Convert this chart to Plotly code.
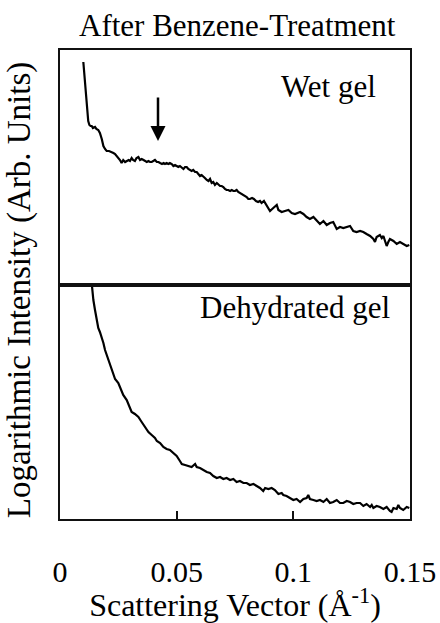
import plotly.graph_objects as go

# ---------------- data ----------------
tick_vals = [0, 0.05, 0.1, 0.15]
tick_text = ["0", "0.05", "0.1", "0.15"]

# Wet gel (upper panel) : scattering vector q (1/Å) and log intensity (arb. units)
wet_q = [
    0.0100, 0.0104, 0.0107, 0.0111, 0.0114, 0.0118, 0.0121, 0.0126, 0.0131, 0.0136,
    0.0141, 0.0150, 0.0156, 0.0164, 0.0171, 0.0179, 0.0186, 0.0193, 0.0200, 0.0210,
    0.0222, 0.0229, 0.0236, 0.0244, 0.0250, 0.0257, 0.0264, 0.0271, 0.0279, 0.0286,
    0.0294, 0.0300, 0.0307, 0.0313, 0.0321, 0.0328, 0.0336, 0.0343, 0.0350, 0.0358,
    0.0364, 0.0372, 0.0379, 0.0386, 0.0393, 0.0401, 0.0407, 0.0415, 0.0422, 0.0429,
    0.0437, 0.0444, 0.0450, 0.0457, 0.0464, 0.0471, 0.0479, 0.0486, 0.0493, 0.0500,
    0.0507, 0.0514, 0.0522, 0.0529, 0.0536, 0.0543, 0.0550, 0.0557, 0.0564, 0.0571,
    0.0579, 0.0586, 0.0593, 0.0600, 0.0607, 0.0614, 0.0621, 0.0629, 0.0636, 0.0643,
    0.0650, 0.0657, 0.0664, 0.0672, 0.0679, 0.0686, 0.0693, 0.0700, 0.0707, 0.0714,
    0.0721, 0.0729, 0.0736, 0.0743, 0.0750, 0.0757, 0.0764, 0.0771, 0.0779, 0.0786,
    0.0793, 0.0800, 0.0807, 0.0814, 0.0823, 0.0831, 0.0840, 0.0849, 0.0857, 0.0864,
    0.0874, 0.0886, 0.0900, 0.0914, 0.0929, 0.0936, 0.0950, 0.0964, 0.0979, 0.0993,
    0.1007, 0.1029, 0.1043, 0.1057, 0.1071, 0.1086, 0.1100, 0.1114, 0.1129, 0.1143,
    0.1157, 0.1171, 0.1186, 0.1200, 0.1214, 0.1229, 0.1243, 0.1257, 0.1271, 0.1286,
    0.1300, 0.1314, 0.1329, 0.1343, 0.1350, 0.1357, 0.1371, 0.1379, 0.1386, 0.1393,
    0.1400, 0.1407, 0.1414, 0.1429, 0.1443, 0.1457, 0.1471, 0.1486, 0.1497,
]
wet_i = [
    221, 209, 200, 184, 177, 168, 162, 158, 157, 157,
    155, 156, 154, 153, 150, 144, 137, 134, 132, 132,
    131, 130, 129, 127, 125, 123, 120, 123, 121, 122,
    123, 122, 125, 123, 122, 125, 126, 123, 124, 123,
    122, 121, 122, 121, 121, 122, 123, 121, 121, 120,
    119, 120, 119, 120, 119, 120, 119, 117, 118, 117,
    116, 117, 115, 114, 116, 116, 114, 113, 112, 113,
    111, 111, 109, 107, 108, 106, 105, 103, 102, 104,
    100, 101, 98, 100, 98, 97, 97, 96, 94, 93,
    93, 92, 93, 92, 92, 93, 91, 90, 89, 88,
    87, 86, 84, 84, 85, 84, 82, 81, 82, 80,
    82, 77, 72, 75, 78, 73, 71, 72, 73, 70,
    69, 71, 69, 66, 64, 66, 63, 59, 62, 58,
    60, 61, 54, 56, 55, 56, 57, 52, 51, 52,
    51, 49, 47, 44, 41, 46, 48, 45, 47, 42,
    37, 41, 44, 42, 39, 41, 39, 37, 38,
]

# Dehydrated gel (lower panel)
dry_q = [
    0.0134, 0.0138, 0.0143, 0.0150, 0.0157, 0.0164, 0.0171, 0.0179, 0.0186, 0.0193,
    0.0200, 0.0207, 0.0214, 0.0222, 0.0229, 0.0236, 0.0250, 0.0257, 0.0264, 0.0271,
    0.0286, 0.0300, 0.0307, 0.0321, 0.0336, 0.0350, 0.0364, 0.0379, 0.0393, 0.0407,
    0.0415, 0.0429, 0.0443, 0.0457, 0.0471, 0.0486, 0.0500, 0.0514, 0.0522, 0.0536,
    0.0550, 0.0564, 0.0579, 0.0586, 0.0600, 0.0614, 0.0629, 0.0643, 0.0657, 0.0672,
    0.0686, 0.0700, 0.0714, 0.0729, 0.0743, 0.0757, 0.0771, 0.0786, 0.0800, 0.0814,
    0.0829, 0.0843, 0.0857, 0.0871, 0.0879, 0.0893, 0.0907, 0.0921, 0.0936, 0.0950,
    0.0957, 0.0971, 0.0986, 0.1000, 0.1014, 0.1029, 0.1043, 0.1057, 0.1064, 0.1071,
    0.1086, 0.1100, 0.1114, 0.1129, 0.1143, 0.1157, 0.1171, 0.1186, 0.1200, 0.1214,
    0.1229, 0.1243, 0.1257, 0.1271, 0.1286, 0.1300, 0.1314, 0.1329, 0.1336, 0.1343,
    0.1357, 0.1371, 0.1386, 0.1400, 0.1414, 0.1421, 0.1429, 0.1443, 0.1450, 0.1457,
    0.1471, 0.1486, 0.1497,
]
dry_i = [
    240, 229, 219, 209, 199, 191, 187, 182, 176, 169,
    164, 159, 154, 149, 144, 140, 136, 132, 127, 124,
    119, 112, 107, 105, 102, 97, 92, 87, 84, 81,
    78, 76, 72, 70, 69, 66, 63, 58, 55, 54,
    53, 52, 55, 52, 51, 49, 47, 46, 43, 41,
    42, 40, 41, 39, 40, 37, 38, 36, 36, 34,
    35, 33, 31, 28, 31, 30, 31, 29, 25, 26,
    24, 23, 21, 19, 20, 17, 20, 21, 24, 20,
    19, 18, 19, 17, 20, 16, 17, 19, 16, 16,
    18, 17, 15, 16, 16, 13, 15, 12, 14, 11,
    13, 12, 10, 12, 8, 7, 11, 10, 14, 11,
    9, 12, 11,
]

# arrow marking the broad peak of the wet gel
peak_q = 0.0420
peak_i = 142

assert len(wet_q) == len(wet_i) and len(dry_q) == len(dry_i)

FONT = "Liberation Serif, Times New Roman, serif"

fig = go.Figure()
fig.add_trace(go.Scatter(x=wet_q, y=wet_i, mode="lines", xaxis="x2", yaxis="y2",
                         line=dict(color="black", width=2.2), showlegend=False))
fig.add_trace(go.Scatter(x=dry_q, y=dry_i, mode="lines", xaxis="x", yaxis="y",
                         line=dict(color="black", width=2.2), showlegend=False))

axline = dict(showline=True, linecolor="#111", linewidth=1.5, mirror=True,
              showgrid=False, zeroline=False)

fig.update_layout(
    width=440, height=623,
    margin=dict(l=60, r=30, t=50, b=104),
    paper_bgcolor="white", plot_bgcolor="white",
    font=dict(family=FONT, color="black", size=30),
    xaxis=dict(domain=[0, 1], anchor="y", range=[0, 0.15],
               tickvals=tick_vals, ticktext=tick_text,
               ticks="inside", ticklen=8, tickwidth=1.5, tickcolor="#111",
               tickfont=dict(size=30), ticklabelstandoff=25,
               title=dict(text="Scattering Vector (Å<sup>-1</sup>)",
                          font=dict(size=32), standoff=2),
               automargin=False, **axline),
    yaxis=dict(domain=[0, 0.4947], anchor="x", range=[0, 232],
               showticklabels=False, ticks="", **axline),
    xaxis2=dict(domain=[0, 1], anchor="y2", range=[0, 0.15], matches="x",
                showticklabels=False, ticks="", **axline),
    yaxis2=dict(domain=[0.5032, 1], anchor="x2", range=[0, 233],
                showticklabels=False, ticks="", **axline),
    annotations=[
        dict(text="After Benzene-Treatment", xref="paper", yref="paper",
             x=0.506, y=1.053, xanchor="center", yanchor="middle",
             showarrow=False, font=dict(size=31)),
        dict(text="Logarithmic Intensity (Arb. Units)", xref="paper", yref="paper",
             x=-0.117, y=0.488, xanchor="center", yanchor="middle",
             textangle=-90, showarrow=False, font=dict(size=33)),
        dict(text="Wet gel", xref="paper", yref="paper",
             x=0.9086, y=0.923, xanchor="right", yanchor="middle",
             showarrow=False, font=dict(size=31)),
        dict(text="Dehydrated gel", xref="paper", yref="paper",
             x=0.9486, y=0.452, xanchor="right", yanchor="middle",
             showarrow=False, font=dict(size=31)),
        dict(text="", x=peak_q, y=peak_i, xref="x2", yref="y2",
             showarrow=True, ax=0, ay=-45, axref="pixel", ayref="pixel",
             arrowhead=2, arrowsize=1.2, arrowwidth=2.5, arrowcolor="black"),
    ],
)

fig.write_html("out.html",
               config={"displayModeBar": False},
               post_script="document.body.style.margin='0px';"
                           "document.body.style.overflow='hidden';")
